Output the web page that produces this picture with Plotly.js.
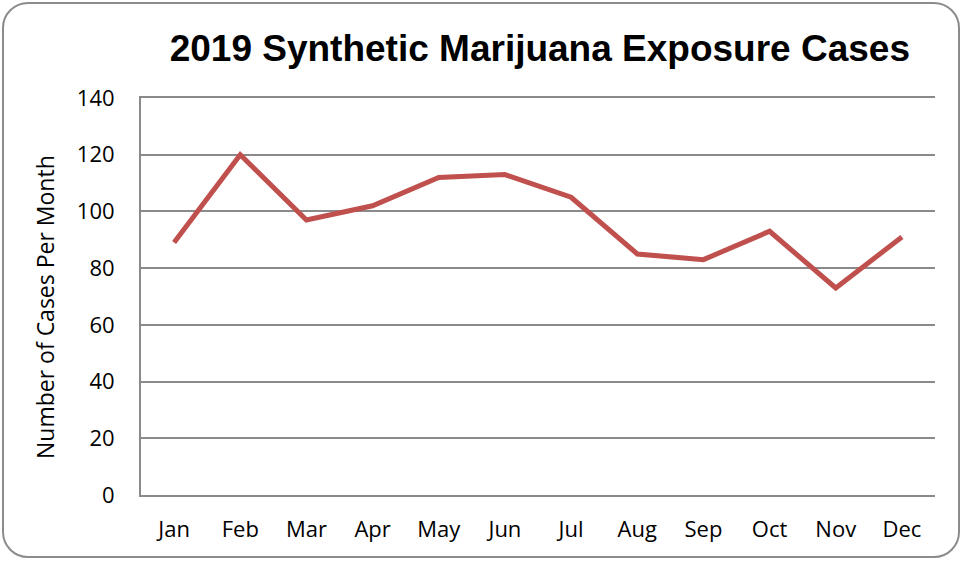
<!DOCTYPE html>
<html>
<head>
<meta charset="utf-8">
<script src="https://cdn.plot.ly/plotly-3.0.1.min.js"></script>
<style>
html, body { margin: 0; padding: 0; background: #fff; }
#wrap { position: relative; width: 964px; height: 562px; }
#chart { position: absolute; left: 0; top: 0; width: 964px; height: 562px; }
#frame { position: absolute; left: 2px; top: 2px; width: 958px; height: 556px; border: 2px solid #8c8c8c; border-radius: 26px; box-sizing: border-box; pointer-events: none; }
</style>
</head>
<body>
<div id="wrap"><div id="chart"></div><div id="frame"></div></div>
<script>
const months = ["Jan","Feb","Mar","Apr","May","Jun","Jul","Aug","Sep","Oct","Nov","Dec"];
const cases = [89, 120, 97, 102, 112, 113, 105, 85, 83, 93, 73, 91];
const yTicks = [0, 20, 40, 60, 80, 100, 120, 140];
const chartTitle = "2019 Synthetic Marijuana Exposure Cases";
const yTitle = "Number of Cases Per Month";

const tickFont = { family: "'Open Sans', 'Liberation Sans', sans-serif", size: 22, color: "#000" };
const gridCol = "#8a8a8a";

Plotly.newPlot("chart", [{
  x: months,
  y: cases,
  type: "scatter",
  mode: "lines",
  line: { color: "#C0504D", width: 5 },
  hoverinfo: "skip"
}], {
  width: 964, height: 562,
  margin: { l: 141, r: 29, t: 98, b: 67 },
  paper_bgcolor: "rgba(0,0,0,0)",
  plot_bgcolor: "#fff",
  showlegend: false,
  title: {
    text: "<b>" + chartTitle + "</b>",
    font: { family: "'Liberation Sans', Arial, sans-serif", size: 37, color: "#000" },
    x: 0.560, xanchor: "center", y: 0.915, yanchor: "middle"
  },
  annotations: [{
    text: yTitle,
    textangle: -90,
    xref: "paper", yref: "paper",
    x: -96 / 794, y: 188 / 397,
    xanchor: "center", yanchor: "middle",
    showarrow: false,
    font: { family: "'Open Sans', 'Liberation Sans', sans-serif", size: 23, color: "#000" }
  }],
  xaxis: {
    type: "category",
    range: [-0.5, 11.5],
    showgrid: false, zeroline: false,
    showline: true, mirror: true, linecolor: gridCol, linewidth: 2,
    ticks: "", tickfont: tickFont, ticklabelstandoff: 14,
    fixedrange: true
  },
  yaxis: {
    range: [0, 140],
    tickvals: yTicks,
    showgrid: true, gridcolor: gridCol, gridwidth: 2,
    zeroline: false,
    showline: true, linecolor: gridCol, linewidth: 2,
    ticks: "", tickfont: tickFont, ticklabelstandoff: 20,
    fixedrange: true
  }
}, { displayModeBar: false, staticPlot: true });
</script>
</body>
</html>
